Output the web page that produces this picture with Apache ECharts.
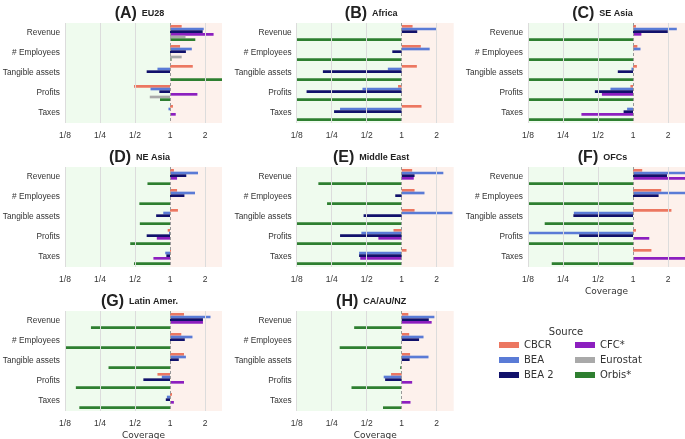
<!DOCTYPE html>
<html><head><meta charset="utf-8">
<script src="https://cdn.jsdelivr.net/npm/echarts@6/dist/echarts.min.js"></script>
<style>html,body{margin:0;padding:0;background:#fff}#c{width:685px;height:439px}</style>
</head><body><div id="c"></div>
<script>
// ---- data (coverage ratios) ----
const CATEGORIES = ['Revenue', '# Employees', 'Tangible assets', 'Profits', 'Taxes'];
const SOURCES = ['CBCR', 'BEA', 'BEA 2', 'CFC*', 'Eurostat', 'Orbis*'];
const PANEL_LETTERS = ['(A)', '(B)', '(C)', '(D)', '(E)', '(F)', '(G)', '(H)'];
const PANEL_NAMES = ['EU28', 'Africa', 'SE Asia', 'NE Asia', 'Middle East', 'OFCs', 'Latin Amer.', 'CA/AU/NZ'];
const TICK_VALUES = [1/8, 1/4, 1/2, 1, 2];
const TICK_LABELS = ['1/8', '1/4', '1/2', '1', '2'];
const AXIS_MAX = 2.8;

// rows: CBCR, BEA, BEA 2, CFC*, Eurostat, Orbis*; columns: categories
const EU28 = [
  [1.26, 1.22, 1.57, 0.49, 1.06],
  [1.95, 1.54, 0.78, 0.68, 0.97],
  [1.91, 1.37, 0.63, 0.81, null],
  [2.37, null, null, 1.72, 1.12],
  [1.36, 1.26, null, 0.67, null],
  [1.65, 1.03, 2.9, 0.82, null]
];
const AFRICA = [
  [1.24, 1.46, 1.35, 0.93, 1.48],
  [2.0, 1.74, 0.76, 0.46, 0.295],
  [1.36, 0.83, 0.21, 0.152, 0.262],
  [null, null, null, null, null],
  [null, null, null, null, null],
  [0.125, 0.125, 0.125, 0.125, 0.125]
];
const SE_ASIA = [
  [1.06, 1.09, 1.08, 0.95, null],
  [2.38, 1.16, 0.97, 0.64, 0.89],
  [1.99, null, 0.74, 0.47, 0.83],
  [1.18, null, null, 0.54, 0.36],
  [null, null, null, null, null],
  [0.125, 0.125, 0.125, 0.125, 0.125]
];
const NE_ASIA = [
  [1.08, 1.15, 1.17, 0.955, 1.02],
  [1.74, 1.64, 0.875, 0.98, 0.91],
  [1.38, 1.33, 0.76, 0.63, 0.93],
  [1.15, null, null, 0.77, 0.72],
  [null, null, null, null, null],
  [0.64, 0.545, 0.55, 0.455, 0.49]
];
const MIDDLE_EAST = [
  [1.23, 1.29, 1.29, 0.85, 1.10],
  [2.28, 1.57, 2.73, 0.45, 0.43],
  [1.29, 0.88, 0.47, 0.295, 0.43],
  [1.27, null, null, 0.63, 0.44],
  [null, null, null, null, null],
  [0.192, 0.228, 0.125, 0.125, 0.125]
];
const OFCS = [
  [1.2, 1.75, 2.14, 1.06, 1.44],
  [2.9, 2.9, 0.31, 0.125, null],
  [1.96, 1.66, 0.307, 0.344, null],
  [2.9, null, null, 1.38, 2.9],
  [null, null, null, null, null],
  [0.125, 0.125, 0.174, 0.125, 0.2]
];
const LATIN_AMER = [
  [1.32, 1.25, 1.32, 0.78, 1.04],
  [2.23, 1.56, 1.37, 0.85, 0.94],
  [1.92, 1.34, 1.19, 0.59, 0.92],
  [1.92, null, null, 1.32, 1.08],
  [null, null, null, null, null],
  [0.209, 0.125, 0.296, 0.155, 0.166]
];
const CA_AU_NZ = [
  [1.14, 1.16, 1.18, 0.81, null],
  [1.91, 1.54, 1.70, 0.70, null],
  [1.71, 1.41, 1.17, 0.72, null],
  [1.81, null, null, 1.23, 1.19],
  [null, null, null, null, null],
  [0.39, 0.293, 0.97, 0.37, 0.69]
];
const PANELS = [EU28, AFRICA, SE_ASIA, NE_ASIA, MIDDLE_EAST, OFCS, LATIN_AMER, CA_AU_NZ];

// ---- styles ----
const COLORS = ['#ec7761', '#5a7bd6', '#11116b', '#8c1fbf', '#a9a9a9', '#2e7f30'];
const COL_LEFT = [65, 296.7, 528];
const ROW_TOP = [23, 167, 311];
const PW = 157, PH = 100;
const LABEL_FONT = 'Liberation Sans, Arial, sans-serif';
const LEG_FONT = 'DejaVu Sans, sans-serif';

const L = v => Math.log2(v);
const XMIN = L(TICK_VALUES[0]), XMAX = L(AXIS_MAX);

const grid = [], xAxis = [], yAxis = [], series = [], title = [];
PANELS.forEach((panel, p) => {
  const r = Math.floor(p / 3), c = p % 3;
  grid.push({left: COL_LEFT[c], top: ROW_TOP[r], width: PW, height: PH, containLabel: false, outerBoundsMode: 'none'});
  const showName = (p >= 5);
  xAxis.push({
    type: 'value', gridIndex: p, min: XMIN, max: XMAX, interval: 1,
    splitLine: {show: false}, axisTick: {show: false},
    axisLine: {show: false},
    axisLabel: {
      fontSize: 8.5, color: '#333', fontFamily: LABEL_FONT, margin: 8,
      formatter: v => { const i = TICK_VALUES.findIndex(t => Math.abs(L(t) - v) < 1e-6); return i >= 0 ? TICK_LABELS[i] : ''; }
    },
    name: showName ? 'Coverage' : '', nameLocation: 'middle', nameGap: 20,
    nameTextStyle: {fontSize: 9, color: '#333', fontFamily: LEG_FONT}
  });
  yAxis.push({
    type: 'category', gridIndex: p, data: CATEGORIES, inverse: true,
    axisLine: {show: false}, axisTick: {show: false}, splitLine: {show: false},
    axisLabel: {fontSize: 8.3, color: '#333', fontFamily: LABEL_FONT, margin: 5}
  });
  // background shading + grid lines
  series.push({
    type: 'line', xAxisIndex: p, yAxisIndex: p, data: [], z: 0, silent: true,
    markArea: {
      silent: true,
      data: [
        [{xAxis: XMIN, itemStyle: {color: '#effbee'}}, {xAxis: 0}],
        [{xAxis: 0, itemStyle: {color: '#fdf1ec'}}, {xAxis: XMAX}]
      ]
    },
    markLine: {
      silent: true, symbol: 'none', label: {show: false},
      data: TICK_VALUES.map(t => ({
        xAxis: L(t),
        lineStyle: t === 1 ? {color: '#999', type: [3, 2], width: 1} : {color: '#dcdcdc', type: 'solid', width: 1}
      }))
    }
  });
  SOURCES.forEach((s, k) => {
    series.push({
      type: 'bar', name: s, xAxisIndex: p, yAxisIndex: p, z: 2,
      data: panel[k].map(v => v == null ? null : L(v)),
      itemStyle: {color: COLORS[k]},
      barGap: '0%', barCategoryGap: '20%', clip: true,
      animation: false
    });
  });
  title.push({
    text: '{a|' + PANEL_LETTERS[p] + '} {b|' + PANEL_NAMES[p] + '}',
    left: COL_LEFT[c] + PW / 2 - 9, top: ROW_TOP[r] - 23, textAlign: 'center',
    textStyle: {
      rich: {
        a: {fontSize: 16, fontWeight: 'bold', color: '#222', fontFamily: LABEL_FONT},
        b: {fontSize: 9, fontWeight: 'bold', color: '#222', fontFamily: LABEL_FONT}
      }
    }
  });
});
title.push({text: 'Source', left: 561, top: 322, textAlign: 'center',
  textStyle: {fontSize: 10, fontWeight: 'normal', color: '#333', fontFamily: LEG_FONT}});

const legendBase = {
  orient: 'vertical', icon: 'rect', itemWidth: 20, itemHeight: 6, itemGap: 5,
  textStyle: {fontSize: 10, color: '#333', fontFamily: LEG_FONT}, selectedMode: false
};
const option = {
  animation: false,
  grid, xAxis, yAxis, series, title,
  legend: [
    Object.assign({}, legendBase, {data: SOURCES.slice(0, 3), left: 494, top: 335}),
    Object.assign({}, legendBase, {data: SOURCES.slice(3), left: 570, top: 335})
  ]
};
const chart = echarts.init(document.getElementById('c'), null, {renderer: 'canvas'});
chart.setOption(option);
</script></body></html>
